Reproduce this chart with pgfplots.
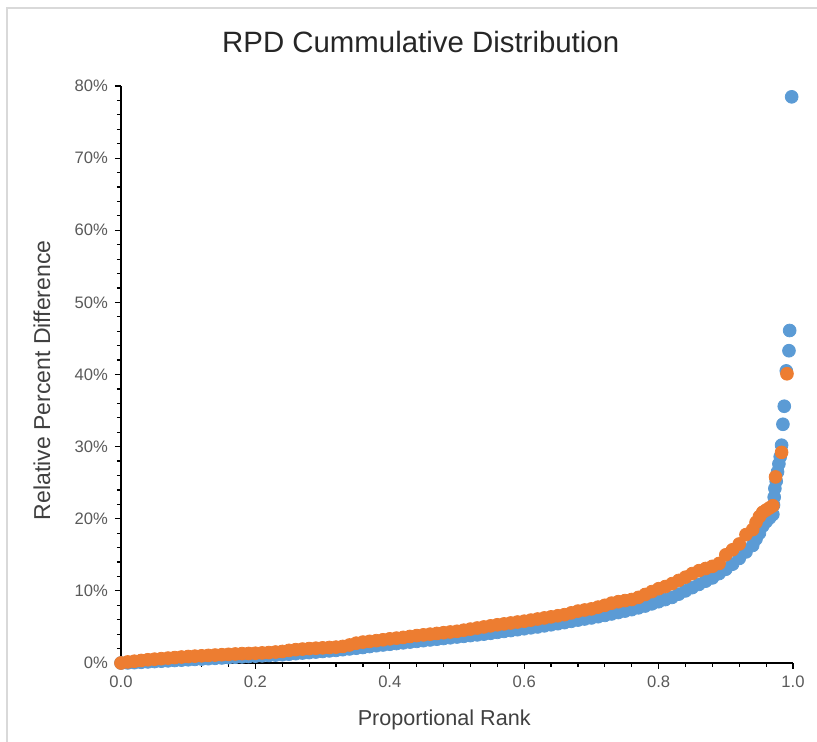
\documentclass[border=0pt]{standalone}
\usepackage{fontspec}
\setmainfont{Liberation Sans}
\usepackage{pgfplots}
\pgfplotsset{compat=1.18}
\definecolor{xlblue}{HTML}{5B9BD5}
\definecolor{xlorange}{HTML}{ED7D31}
\definecolor{ticktext}{HTML}{595959}
\definecolor{labeltext}{HTML}{404040}
\definecolor{frame}{HTML}{D9D9D9}

% RPD by proportional rank, values in percent
\pgfplotstableread{
x y
0.00 0.00
0.01 0.02
0.02 0.05
0.03 0.10
0.04 0.15
0.05 0.20
0.06 0.25
0.07 0.30
0.08 0.35
0.09 0.40
0.10 0.45
0.11 0.50
0.12 0.55
0.13 0.60
0.14 0.65
0.15 0.70
0.16 0.75
0.17 0.80
0.18 0.85
0.19 0.90
0.20 0.95
0.21 1.00
0.22 1.05
0.23 1.10
0.24 1.15
0.25 1.22
0.26 1.30
0.27 1.38
0.28 1.45
0.29 1.52
0.30 1.60
0.31 1.68
0.32 1.75
0.33 1.85
0.34 1.95
0.35 2.05
0.36 2.15
0.37 2.28
0.38 2.40
0.39 2.50
0.40 2.60
0.41 2.70
0.42 2.80
0.43 2.90
0.44 3.00
0.45 3.10
0.46 3.20
0.47 3.30
0.48 3.40
0.49 3.50
0.50 3.60
0.51 3.70
0.52 3.80
0.53 3.90
0.54 4.00
0.55 4.12
0.56 4.25
0.57 4.38
0.58 4.50
0.59 4.62
0.60 4.75
0.61 4.88
0.62 5.00
0.63 5.15
0.64 5.30
0.65 5.45
0.66 5.60
0.67 5.78
0.68 5.95
0.69 6.10
0.70 6.25
0.71 6.42
0.72 6.60
0.73 6.80
0.74 7.00
0.75 7.20
0.76 7.40
0.77 7.65
0.78 7.90
0.79 8.20
0.80 8.50
0.81 8.80
0.82 9.10
0.83 9.55
0.84 10.00
0.85 10.45
0.86 10.90
0.87 11.35
0.88 11.80
0.89 12.40
0.90 13.00
0.91 13.70
0.92 14.50
0.93 15.40
0.94 16.30
0.945 17.20
0.95 18.00
0.955 19.00
0.96 19.60
0.965 20.10
0.97 20.60
0.971 21.90
0.972 23.00
0.973 24.20
0.975 25.20
0.977 26.50
0.979 27.60
0.981 28.60
0.983 30.20
0.985 33.10
0.987 35.60
0.990 40.50
0.994 43.30
0.995 46.10
0.998 78.50
}\blueseries

\pgfplotstableread{
x y
0.00 0.00
0.01 0.15
0.02 0.25
0.03 0.35
0.04 0.45
0.05 0.53
0.06 0.60
0.07 0.68
0.08 0.75
0.09 0.83
0.10 0.90
0.11 0.95
0.12 1.00
0.13 1.05
0.14 1.10
0.15 1.15
0.16 1.20
0.17 1.25
0.18 1.30
0.19 1.32
0.20 1.35
0.21 1.40
0.22 1.45
0.23 1.52
0.24 1.60
0.25 1.75
0.26 1.85
0.27 1.93
0.28 2.00
0.29 2.05
0.30 2.10
0.31 2.15
0.32 2.20
0.33 2.30
0.34 2.50
0.35 2.75
0.36 2.90
0.37 3.00
0.38 3.10
0.39 3.22
0.40 3.35
0.41 3.45
0.42 3.55
0.43 3.68
0.44 3.80
0.45 3.90
0.46 4.00
0.47 4.10
0.48 4.20
0.49 4.30
0.50 4.40
0.51 4.55
0.52 4.70
0.53 4.85
0.54 5.00
0.55 5.15
0.56 5.30
0.57 5.42
0.58 5.55
0.59 5.68
0.60 5.80
0.61 5.95
0.62 6.10
0.63 6.25
0.64 6.40
0.65 6.55
0.66 6.70
0.67 6.95
0.68 7.20
0.69 7.35
0.70 7.50
0.71 7.75
0.72 8.00
0.73 8.30
0.74 8.50
0.75 8.65
0.76 8.80
0.77 9.10
0.78 9.50
0.79 9.90
0.80 10.30
0.81 10.60
0.82 11.00
0.83 11.45
0.84 11.90
0.85 12.40
0.86 12.80
0.87 13.10
0.88 13.40
0.89 13.80
0.90 15.00
0.91 15.70
0.92 16.50
0.93 17.80
0.94 18.50
0.945 19.50
0.95 20.30
0.955 20.90
0.96 21.20
0.965 21.50
0.97 21.80
0.974 25.80
0.983 29.20
0.991 40.10
}\orangeseries

\begin{document}
\begin{tikzpicture}
\begin{axis}[
    scale only axis, width=336pt, height=288.5pt,
    at={(0,0)}, anchor=south west,
    xmin=0, xmax=1, ymin=0, ymax=80,
    xtick={0,0.2,...,1.0}, ytick={0,10,...,80},
    minor x tick num=4, minor y tick num=4,
    axis x line*=bottom, axis y line*=left,
    axis line style={black, line width=0.75pt},
    tick style={black, line width=0.6pt},
    tick align=outside,
    major tick length=3pt, minor tick length=2pt,
    clip=false,
    /pgf/number format/assume math mode=true,
    tick label style={font=\fontsize{8.3}{10}\selectfont, text=ticktext},
    xticklabel style={/pgf/number format/.cd, fixed, fixed zerofill, precision=1},
    yticklabel={\pgfmathprintnumber[fixed,precision=0]{\tick}\%},
    xlabel={Proportional Rank},
    ylabel={Relative Percent Difference},
    xlabel style={at={(axis description cs:0.481,-0.099)}, anchor=center,
        font=\fontsize{10.8}{12}\selectfont, text=labeltext},
    ylabel style={at={(axis description cs:-0.1176,0.49)}, anchor=center, rotate=0,
        font=\fontsize{11.5}{13}\selectfont, text=labeltext},
    title={RPD Cummulative Distribution},
    title style={at={(axis description cs:0.446,1.076)}, anchor=center, yshift=-6pt,
        font=\fontsize{14.7}{17}\selectfont, text=black!85},
]
  \addplot[only marks, mark=*, mark size=3.2pt, color=xlblue] table[x=x, y=y] {\blueseries};
  \addplot[only marks, mark=*, mark size=3.2pt, color=xlorange] table[x=x, y=y] {\orangeseries};
\end{axis}
\pgfresetboundingbox
\path[use as bounding box] (-60.5pt,-39.5pt) rectangle (348pt,331.5pt);
\draw[frame, line width=0.8pt] (-57pt,-45pt) -- (-57pt,327.5pt) -- (355pt,327.5pt);
\end{tikzpicture}
\end{document}
